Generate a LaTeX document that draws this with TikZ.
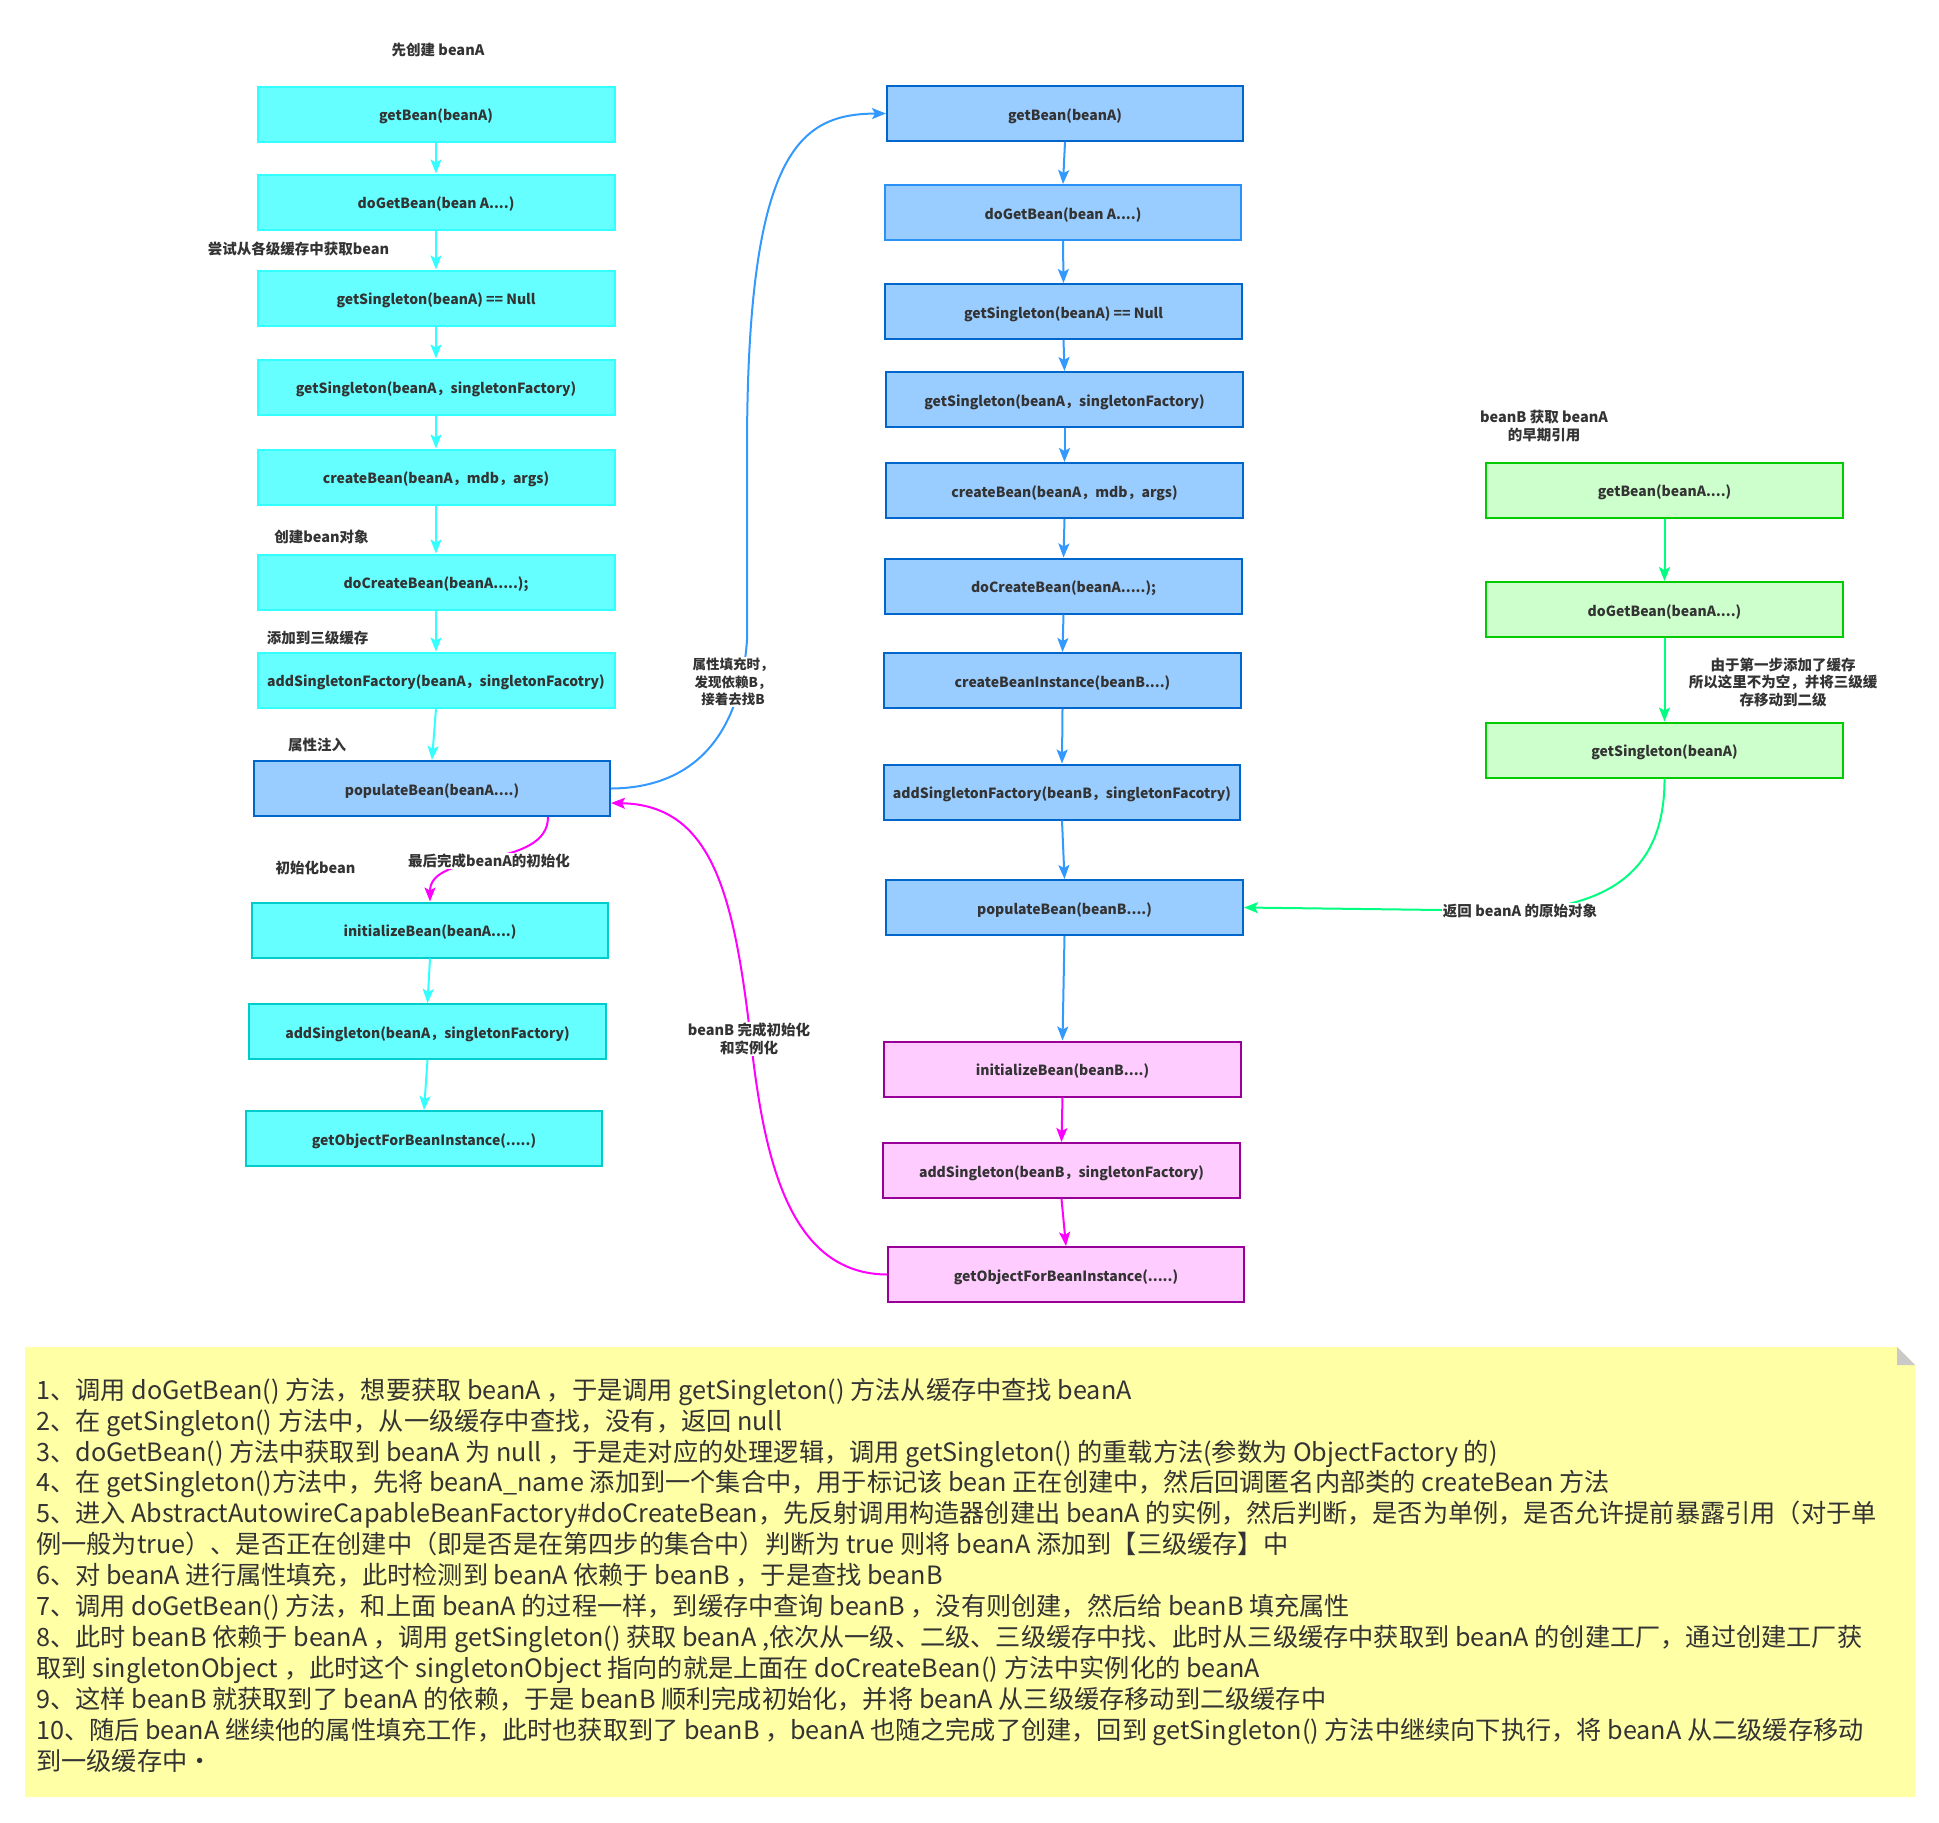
\documentclass[tikz,border=0pt]{standalone}
\usepackage{fontspec}
\setmainfont{Noto Sans CJK SC}
\usetikzlibrary{arrows.meta}
\definecolor{txt}{HTML}{333333}
\definecolor{cyF}{HTML}{66FFFF}
\definecolor{cyB}{HTML}{33FFFF}
\definecolor{cyB2}{HTML}{00CCCC}
\definecolor{blF}{HTML}{99CCFF}
\definecolor{blB}{HTML}{0066CC}
\definecolor{piF}{HTML}{FFCCFF}
\definecolor{piB}{HTML}{990099}
\definecolor{grF}{HTML}{CCFFCC}
\definecolor{grB}{HTML}{00CC00}
\definecolor{cyA}{HTML}{33FFFF}
\definecolor{blA}{HTML}{3399FF}
\definecolor{maA}{HTML}{FF00FF}
\definecolor{grA}{HTML}{00FF80}
\definecolor{noteF}{HTML}{FFFFA6}
\definecolor{foldC}{HTML}{C9C9C9}
\tikzset{
  box/.style={draw, line width=2pt, minimum width=357pt, minimum height=55pt,
    inner sep=0pt, text=txt, text height=13.5pt, text depth=0pt,
    font=\bfseries\fontsize{14}{16}\selectfont},
  cybox/.style={box, fill=cyF, draw=cyB},
  cyboxb/.style={box, fill=cyF, draw=cyB2},
  blbox/.style={box, fill=blF, draw=blB},
  pibox/.style={box, fill=piF, draw=piB},
  grbox/.style={box, fill=grF, draw=grB},
  lbl/.style={text=txt, align=center, inner sep=1pt, font=\bfseries\fontsize{14.5}{17.5}\selectfont},
  wlbl/.style={lbl, fill=white},
  arr/.style={line width=2pt, -{Stealth[length=14pt,width=11pt,inset=3pt]}}
}
\begin{document}
\begin{tikzpicture}[x=1pt,y=-1pt]
\useasboundingbox (0,0) rectangle (1939,1823);
\fill[white] (0,0) rectangle (1939,1823);

% left column
\node[cybox] (L1) at (436,114) {getBean(beanA)};
\node[cybox] (L2) at (436,202) {doGetBean(bean A....)};
\node[cybox] (L3) at (436,298) {getSingleton(beanA) == Null};
\node[cybox] (L4) at (436,387) {getSingleton(beanA，singletonFactory)};
\node[cybox] (L5) at (436,477) {createBean(beanA，mdb，args)};
\node[cybox] (L6) at (436,582) {doCreateBean(beanA.....);};
\node[cybox] (L7) at (436,680) {addSingletonFactory(beanA，singletonFacotry)};
\node[blbox, minimum width=356pt] (L8) at (432,788.5) {populateBean(beanA....)};
\node[cyboxb, minimum width=356pt] (L9) at (430,930) {initializeBean(beanA....)};
\node[cyboxb] (L10) at (427.5,1031.5) {addSingleton(beanA，singletonFactory)};
\node[cyboxb, minimum width=356pt] (L11) at (424,1138.5) {getObjectForBeanInstance(.....)};

% middle column
\node[blbox, minimum width=356pt] (M1) at (1065,113.5) {getBean(beanA)};
\node[blbox, draw=blA!85!blB, minimum width=356pt] (M2) at (1063,212.5) {doGetBean(bean A....)};
\node[blbox] (M3) at (1063.5,311.5) {getSingleton(beanA) == Null};
\node[blbox] (M4) at (1064.5,399.5) {getSingleton(beanA，singletonFactory)};
\node[blbox] (M5) at (1064.5,490.5) {createBean(beanA，mdb，args)};
\node[blbox] (M6) at (1063.5,586) {doCreateBean(beanA.....);};
\node[blbox] (M7) at (1062.5,680.5) {createBeanInstance(beanB....)};
\node[blbox, minimum width=356pt] (M8) at (1062,792) {addSingletonFactory(beanB，singletonFacotry)};
\node[blbox] (M9) at (1064.5,907.5) {populateBean(beanB....)};
\node[pibox] (M10) at (1062.5,1069) {initializeBean(beanB....)};
\node[pibox] (M11) at (1061.5,1170.5) {addSingleton(beanB，singletonFactory)};
\node[pibox, minimum width=356pt] (M12) at (1066,1274.5) {getObjectForBeanInstance(.....)};

% right column
\node[grbox] (G1) at (1664.5,490) {getBean(beanA....)};
\node[grbox] (G2) at (1664.5,609.5) {doGetBean(beanA....)};
\node[grbox] (G3) at (1664.5,750) {getSingleton(beanA)};

% straight connectors
\foreach \a/\b in {L1/L2,L2/L3,L3/L4,L4/L5,L5/L6,L6/L7,L7/L8,L9/L10,L10/L11}
  \draw[arr, cyA] (\a.south) -- (\b.north);
\foreach \a/\b in {M1/M2,M2/M3,M3/M4,M4/M5,M5/M6,M6/M7,M7/M8,M8/M9,M9/M10}
  \draw[arr, blA] (\a.south) -- (\b.north);
\foreach \a/\b in {M10/M11,M11/M12}
  \draw[arr, maA] (\a.south) -- (\b.north);
\foreach \a/\b in {G1/G2,G2/G3}
  \draw[arr, grA] (\a.south) -- (\b.north);

% curved connectors
\draw[arr, blA] (L8.east) .. controls (690,788) and (740,740) .. (747,640)
  -- (747,450) .. controls (747,150) and (800,114) .. (M1.west);
\node[wlbl, font=\bfseries\fontsize{13.5}{17.5}\selectfont] (lblB) at (733,682) {属性填充时，\\发现依赖B，\\接着去找B};

\draw[arr, maA] (M12.west) .. controls (790,1274) and (765,1160) .. (752,1050)
  .. controls (735,900) and (715,805) .. ([yshift=-14.5pt]L8.east);
\node[wlbl] (lblM) at (749,1039) {beanB 完成初始化\\和实例化};

\draw[arr, maA] ([xshift=116pt]L8.south) .. controls (548,870) and (430,850) .. (L9.north);
\node[wlbl] (lblI) at (489,861) {最后完成beanA的初始化};

\coordinate (gm) at (1520,911);
\draw[arr, grA] (G3.south) .. controls (1665,870) and (1610,905) .. (gm) -- (M9.east);
\node[wlbl] (lblG) at (gm) {返回 beanA 的原始对象};

% free labels
\node[lbl] (t1) at (438,50) {先创建 beanA};
\node[lbl] (t2) at (298.5,249) {尝试从各级缓存中获取bean};
\node[lbl] (t3) at (321.5,537) {创建bean对象};
\node[lbl] (t4) at (317.5,638) {添加到三级缓存};
\node[lbl] (t5) at (317,745) {属性注入};
\node[lbl] (t6) at (315.5,868) {初始化bean};
\node[lbl] (t7) at (1544,426) {beanB 获取 beanA\\的早期引用};
\node[lbl] (t8) at (1783,682) {由于第一步添加了缓存\\所以这里不为空，并将三级缓\\存移动到二级};

% note
\fill[noteF] (25,1347) -- (1897,1347) -- (1915,1365) -- (1915,1797) -- (25,1797) -- cycle;
\fill[foldC] (1897,1347) -- (1915,1365) -- (1897,1365) -- cycle;
\node[anchor=base west, align=left, inner sep=0pt, text=txt,
  font=\fontsize{25.2}{30.9}\selectfont] (note) at (36,1770) {%
1、调用 doGetBean() 方法，想要获取 beanA ，于是调用 getSingleton() 方法从缓存中查找 beanA\\
2、在 getSingleton() 方法中，从一级缓存中查找，没有，返回 null\\
3、doGetBean() 方法中获取到 beanA 为 null ，于是走对应的处理逻辑，调用 getSingleton() 的重载方法(参数为 ObjectFactory 的)\\
4、在 getSingleton()方法中，先将 beanA\_name 添加到一个集合中，用于标记该 bean 正在创建中，然后回调匿名内部类的 createBean 方法\\
5、进入 AbstractAutowireCapableBeanFactory\#doCreateBean，先反射调用构造器创建出 beanA 的实例，然后判断，是否为单例，是否允许提前暴露引用（对于单\\
例一般为true）、是否正在创建中（即是否是在第四步的集合中）判断为 true 则将 beanA 添加到【三级缓存】中\\
6、对 beanA 进行属性填充，此时检测到 beanA 依赖于 beanB ，于是查找 beanB\\
7、调用 doGetBean() 方法，和上面 beanA 的过程一样，到缓存中查询 beanB ，没有则创建，然后给 beanB 填充属性\\
8、此时 beanB 依赖于 beanA ，调用 getSingleton() 获取 beanA ,依次从一级、二级、三级缓存中找、此时从三级缓存中获取到 beanA 的创建工厂，通过创建工厂获\\
取到 singletonObject ，此时这个 singletonObject 指向的就是上面在 doCreateBean() 方法中实例化的 beanA\\
9、这样 beanB 就获取到了 beanA 的依赖，于是 beanB 顺利完成初始化，并将 beanA 从三级缓存移动到二级缓存中\\
10、随后 beanA 继续他的属性填充工作，此时也获取到了 beanB ，beanA 也随之完成了创建，回到 getSingleton() 方法中继续向下执行，将 beanA 从二级缓存移动\\
到一级缓存中·};
\end{tikzpicture}
\end{document}
